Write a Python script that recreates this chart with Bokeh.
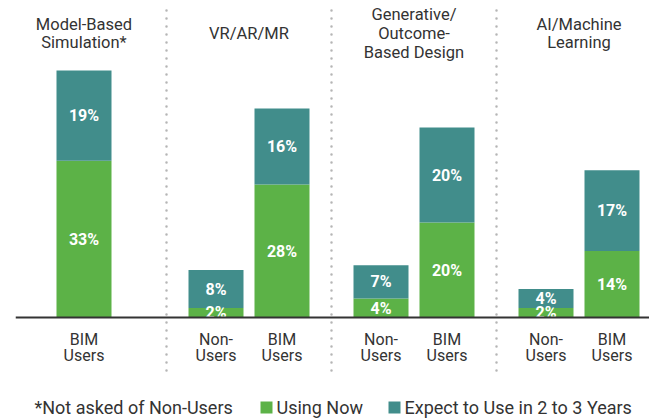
from bokeh.plotting import figure
from bokeh.models import Range1d, Span, ColumnDataSource
from bokeh.core.properties import value
from bokeh.embed import file_html
from bokeh.resources import INLINE

# ---- data ----
technologies = ["Model-Based\nSimulation*", "VR/AR/MR",
                "Generative/\nOutcome-\nBased Design", "AI/Machine\nLearning"]
bar_tech = [0, 1, 1, 2, 2, 3, 3]
bar_group = ["BIM\nUsers", "Non-\nUsers", "BIM\nUsers", "Non-\nUsers",
             "BIM\nUsers", "Non-\nUsers", "BIM\nUsers"]
using_now = [33, 2, 28, 4, 20, 2, 14]
expect_2_3 = [19, 8, 16, 7, 20, 4, 17]
series_names = ["Using Now", "Expect to Use in 2 to 3 Years"]
footnote = "*Not asked of Non-Users"

GREEN = "#5cb247"
TEAL = "#418d8b"
DARK = "#333333"
FONT = "Roboto"

# ---- layout helpers ----
PX_PER_PCT = 4.75
BASE_PAGE_Y = 317.0
FIG_W, FIG_H = 649, 418
LEFT = 15


def ydata(page_y):
    return (BASE_PAGE_Y - page_y) / PX_PER_PCT


def xdata(page_x):
    return (page_x - 83.5) / 165.0


counts = {t: bar_tech.count(t) for t in set(bar_tech)}
xs = []
for t, g in zip(bar_tech, bar_group):
    if counts[t] == 1:
        xs.append(t)
    else:
        xs.append(t - 0.2 if g.startswith("Non") else t + 0.2)

tops = [a + b for a, b in zip(using_now, expect_2_3)]
src = ColumnDataSource(dict(
    x=xs, using=using_now, expect=expect_2_3, top=tops,
    mid1=[u / 2 for u in using_now],
    mid2=[u + e / 2 for u, e in zip(using_now, expect_2_3)],
    lab1=[f"{u}%" for u in using_now],
    lab2=[f"{e}%" for e in expect_2_3],
    group=bar_group,
    gy=[ydata(347)] * len(xs),
))

p = figure(width=FIG_W, height=FIG_H, output_backend="svg",
           toolbar_location=None,
           x_range=Range1d(xdata(LEFT), xdata(FIG_W)),
           y_range=Range1d(ydata(FIG_H), ydata(0)),
           min_border_left=LEFT, min_border_right=0, min_border_top=0,
           min_border_bottom=0)
p.axis.visible = False
p.grid.visible = False
p.outline_line_color = None

W = 55 / 165.0
p.vbar(x="x", width=W, bottom=0, top="using", fill_color=GREEN,
       line_color=None, source=src)
p.vbar(x="x", width=W, bottom="using", top="top", fill_color=TEAL,
       line_color=None, source=src)

lab_kw = dict(text_align="center", text_baseline="middle", text_color="white",
              text_font=value(FONT), text_font_style="bold",
              text_font_size="16px")
p.text(x="x", y="mid1", text="lab1", source=src, **lab_kw)
p.text(x="x", y="mid2", text="lab2", source=src, **lab_kw)

# baseline
p.add_layout(Span(location=0, dimension="width", line_color=DARK,
                  line_width=2))

# separators
seps = [t + 0.5 for t in range(len(technologies) - 1)]
p.segment(x0=seps, x1=seps, y0=[ydata(10)] * len(seps),
          y1=[ydata(371)] * len(seps), line_color="#b5b5b5", line_width=2.5,
          line_dash="0 8", line_cap="round")

# category labels
p.text(x="x", y="gy", text="group", source=src, text_align="center",
       text_baseline="middle", text_color=DARK, text_font=value(FONT),
       text_font_size="16px", text_line_height=0.82)

# technology titles
p.text(x=list(range(len(technologies))), y=[ydata(33)] * len(technologies),
       text=technologies, text_align="center", text_baseline="middle",
       text_color=DARK, text_font=value(FONT), text_font_size="16.5px",
       text_line_height=0.99)

# legend
ly = ydata(407)
p.text(x=[xdata(34)], y=[ly], text=[footnote], text_align="left",
       text_baseline="middle", text_color=DARK, text_font=value(FONT),
       text_font_size="18px")
p.scatter(x=[xdata(266), xdata(394)], y=[ly, ly], marker="square", size=12,
          fill_color=[GREEN, TEAL], line_color=None)
p.text(x=[xdata(276), xdata(404)], y=[ly, ly], text=series_names,
       text_align="left", text_baseline="middle", text_color=DARK,
       text_font=value(FONT), text_font_size="18px")

open("out.html", "w").write(file_html(p, INLINE))
